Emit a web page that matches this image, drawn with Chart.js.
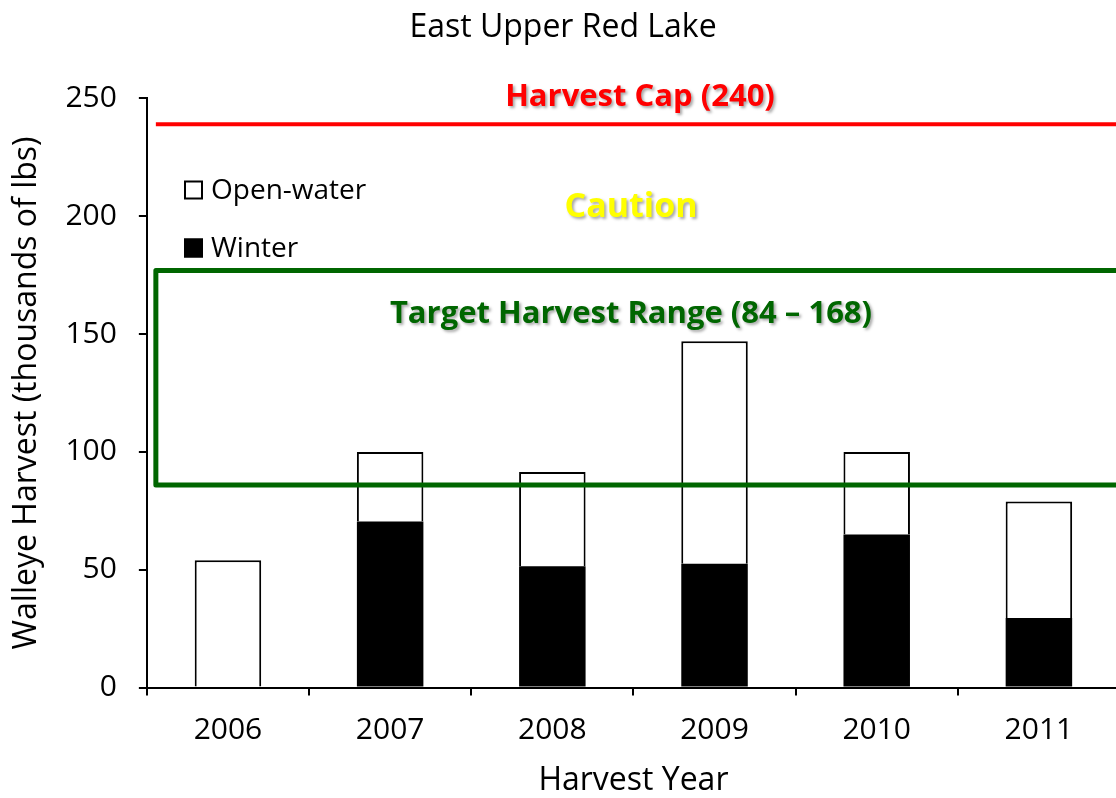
<!DOCTYPE html>
<html>
<head>
<meta charset="utf-8">
<script src="https://cdn.jsdelivr.net/npm/chart.js@4.4.1/dist/chart.umd.min.js"></script>
<style>
  html, body { margin: 0; padding: 0; background: #fff; overflow: hidden; }
  #wrap { width: 1126px; height: 798px; }
</style>
</head>
<body>
<div id="wrap"><canvas id="myChart"></canvas></div>
<script>
// data
const years = ['2006', '2007', '2008', '2009', '2010', '2011'];
const winter = [0, 70.5, 51.5, 52.5, 65, 29.5];
const openWater = [54, 29.5, 40, 94.5, 35, 49.5];
const yTicks = [0, 50, 100, 150, 200, 250];

// reference levels as drawn
const harvestCap = 239;
const targetRange = [86, 177];

const FONT = "'Open Sans', 'DejaVu Sans', sans-serif";

// legend + lines + labels drawn on top of the bars
const overlay = {
    id: 'overlay',
    afterDatasetsDraw(chart) {
        const ctx = chart.ctx;
        const area = chart.chartArea;
        const y = chart.scales.y;
        ctx.save();

        // target box
        ctx.strokeStyle = '#006600';
        ctx.lineWidth = 5;
        ctx.lineJoin = 'round';
        const top = y.getPixelForValue(targetRange[1]);
        const bot = y.getPixelForValue(targetRange[0]);
        ctx.strokeRect(area.left + 9, top, area.right + 40 - area.left, bot - top);

        // harvest cap
        ctx.strokeStyle = '#ff0000';
        ctx.lineWidth = 4;
        ctx.beginPath();
        ctx.moveTo(area.left + 9, y.getPixelForValue(harvestCap));
        ctx.lineTo(area.right + 10, y.getPixelForValue(harvestCap));
        ctx.stroke();

        // labels with shadow
        ctx.textAlign = 'center';
        ctx.textBaseline = 'middle';
        ctx.shadowColor = 'rgba(0,0,0,0.35)';
        ctx.shadowOffsetX = 2;
        ctx.shadowOffsetY = 2;
        ctx.shadowBlur = 3;
        ctx.font = 'bold 31px ' + FONT;
        ctx.fillStyle = '#ff0000';
        ctx.fillText('Harvest Cap (240)', 640, y.getPixelForValue(250.5));
        ctx.fillStyle = '#006600';
        ctx.fillText('Target Harvest Range (84 \u2013 168)', 631, y.getPixelForValue(158.5));
        ctx.font = 'bold 34px ' + FONT;
        ctx.fillStyle = '#ffff00';
        ctx.fillText('Caution', 631, y.getPixelForValue(204));
        ctx.restore();

        // legend
        ctx.save();
        ctx.font = '28px ' + FONT;
        ctx.textBaseline = 'middle';
        ctx.textAlign = 'left';
        const items = [chart.data.datasets[1], chart.data.datasets[0]];
        items.forEach(function (ds, i) {
            const ly = 190 + i * 58;
            ctx.fillStyle = ds.backgroundColor;
            ctx.fillRect(184, ly - 9.5, 19, 19);
            ctx.strokeStyle = '#000';
            ctx.lineWidth = 2;
            ctx.strokeRect(185, ly - 8.5, 17, 17);
            ctx.fillStyle = '#000';
            ctx.fillText(ds.label, 211, ly + 1);
        });
        ctx.restore();
    }
};

const ctx1 = document.getElementById('myChart').getContext('2d');
const data = {
    labels: years,
    datasets: [{
        label: 'Winter',
        data: winter,
        backgroundColor: '#000',
        borderColor: '#000',
        borderWidth: 0,
        stack: 'a'
    }, {
        label: 'Open-water',
        data: openWater,
        backgroundColor: '#fff',
        borderColor: '#000',
        borderWidth: 2,
        stack: 'a'
    }]
};
const config = {
    type: 'bar',
    data: data,
    options: {
        responsive: true,
        maintainAspectRatio: false,
        animation: false,
        categoryPercentage: 1,
        barPercentage: 0.41,
        layout: { padding: { left: 6, right: 6, top: 0, bottom: -3 } },
        plugins: {
            legend: { display: false },
            tooltip: { enabled: false },
            title: {
                display: true,
                text: 'East Upper Red Lake',
                color: '#000',
                font: { family: FONT, size: 32, weight: 'normal' },
                padding: { top: 9, bottom: 51 }
            }
        },
        scales: {
            x: {
                stacked: true,
                grid: { drawOnChartArea: false, color: '#000', lineWidth: 2, tickLength: 8 },
                border: { color: '#000', width: 2 },
                ticks: { color: '#000', font: { family: FONT, size: 30 }, padding: 17 },
                title: {
                    display: true,
                    text: 'Harvest Year',
                    color: '#000',
                    font: { family: FONT, size: 32 },
                    padding: { top: -4, bottom: 1 }
                }
            },
            y: {
                stacked: true,
                min: 0,
                max: 250,
                afterBuildTicks: function (axis) {
                    axis.ticks = yTicks.map(function (v) { return { value: v }; });
                },
                grid: { drawOnChartArea: false, color: '#000', lineWidth: 2, tickLength: 8 },
                border: { color: '#000', width: 2 },
                ticks: { color: '#000', font: { family: FONT, size: 30 }, padding: 22 },
                title: {
                    display: true,
                    text: 'Walleye Harvest (thousands of lbs)',
                    color: '#000',
                    font: { family: FONT, size: 32 },
                    padding: { top: 2, bottom: -3 }
                }
            }
        }
    },
    plugins: [overlay]
};
const myChart = new Chart(ctx1, config);
</script>
</body>
</html>
